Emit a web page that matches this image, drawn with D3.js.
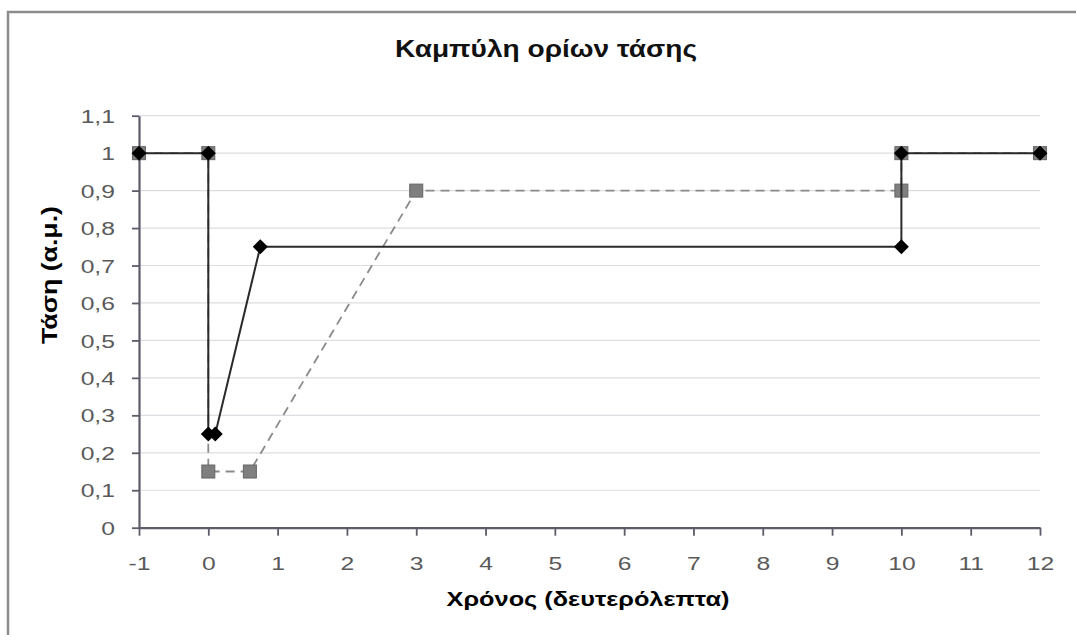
<!DOCTYPE html>
<html>
<head>
<meta charset="utf-8">
<script src="https://cdn.jsdelivr.net/npm/d3@7/dist/d3.min.js"></script>
<style>
  body { margin: 0; background: #fff; }
  svg text { font-family: "Liberation Sans", Arial, sans-serif; }
</style>
</head>
<body>
<div id="chart"></div>
<script>
// καμπύλη με τα διαμάντια (μαύρη, συνεχής)
var timeBlack = [-1, 0, 0, 0.1, 0.75, 10, 10, 12];
var voltBlack = [1, 1, 0.25, 0.25, 0.75, 0.75, 1, 1];
// καμπύλη με τα τετράγωνα (γκρι, διακεκομμένη)
var timeGray = [-1, 0, 0, 0.6, 3, 10, 10, 12];
var voltGray = [1, 1, 0.15, 0.15, 0.9, 0.9, 1, 1];

var xTicks = [-1, 0, 1, 2, 3, 4, 5, 6, 7, 8, 9, 10, 11, 12];
var yTicks = [0, 0.1, 0.2, 0.3, 0.4, 0.5, 0.6, 0.7, 0.8, 0.9, 1, 1.1];

var chartTitle = 'Καμπύλη ορίων τάσης';
var xTitle = 'Χρόνος (δευτερόλεπτα)';
var yTitle = 'Τάση (α.μ.)';

plotChart();

function plotChart(){
    var width = 1076, height = 635;
    var svg = d3.select('#chart').append('svg')
        .attr('width', width)
        .attr('height', height);

    // cadre
    svg.append('rect')
        .attr('x', 8).attr('y', 12)
        .attr('width', width + 20).attr('height', height + 20)
        .attr('fill', 'none')
        .attr('stroke', '#8c8c8c')
        .attr('stroke-width', 2.5);

    var x = d3.scaleLinear().domain([-1, 12]).range([139, 1040]);
    var y = d3.scaleLinear().domain([0, 1.1]).range([527.7, 115.7]);

    // grille
    svg.append('g').selectAll('line').data(yTicks.filter(function(d){ return d > 0; }))
        .enter().append('line')
        .attr('x1', x(-1)).attr('x2', x(12))
        .attr('y1', function(d){ return y(d); })
        .attr('y2', function(d){ return y(d); })
        .attr('stroke', '#dedde3')
        .attr('stroke-width', 1.2);

    var comma = function(d){ return d3.format('~g')(d).replace('.', ','); };

    var yAxis = svg.append('g')
        .attr('transform', 'translate(' + x(-1) + ',0)')
        .call(d3.axisLeft(y).tickValues(yTicks).tickFormat(comma).tickSize(7).tickSizeOuter(0));
    var xAxis = svg.append('g')
        .attr('transform', 'translate(0,' + y(0) + ')')
        .call(d3.axisBottom(x).tickValues(xTicks).tickFormat(function(d){ return d; }).tickSize(8).tickSizeOuter(0));

    [xAxis, yAxis].forEach(function(a){
        a.select('.domain').attr('stroke', '#5e5b6a').attr('stroke-width', 2.2);
        a.selectAll('.tick line').attr('stroke', '#5e5b6a').attr('stroke-width', 1.8);
        a.selectAll('.tick text')
            .attr('fill', '#5a5a5a')
            .style('font-size', '19px');
    });
    yAxis.selectAll('.tick text')
        .attr('x', -18.5)
        .attr('dy', '0.35em')
        .attr('transform', 'scale(1.3,1)');
    xAxis.selectAll('.tick text')
        .attr('y', 0)
        .attr('dy', 0)
        .attr('transform', 'translate(0,42) scale(1.3,1)');

    // courbes
    var line = d3.line()
        .x(function(d){ return x(d[0]); })
        .y(function(d){ return y(d[1]); });

    var grayPts = d3.zip(timeGray, voltGray);
    var blackPts = d3.zip(timeBlack, voltBlack);

    svg.append('path').datum(grayPts)
        .attr('d', line)
        .attr('fill', 'none')
        .attr('stroke', '#8a8a8a')
        .attr('stroke-width', 1.8)
        .attr('stroke-dasharray', '9,6');

    svg.append('g').selectAll('rect').data(grayPts)
        .enter().append('rect')
        .attr('x', function(d){ return x(d[0]) - 6.5; })
        .attr('y', function(d){ return y(d[1]) - 6.5; })
        .attr('width', 13).attr('height', 13)
        .attr('fill', '#7f7f7f')
        .attr('stroke', '#666')
        .attr('stroke-width', 1);

    svg.append('path').datum(blackPts)
        .attr('d', line)
        .attr('fill', 'none')
        .attr('stroke', '#2a2a2a')
        .attr('stroke-width', 2);

    svg.append('g').selectAll('path').data(blackPts)
        .enter().append('path')
        .attr('d', 'M0,-7.5L7.5,0L0,7.5L-7.5,0Z')
        .attr('transform', function(d){ return 'translate(' + x(d[0]) + ',' + y(d[1]) + ')'; })
        .attr('fill', '#000');

    // titres
    svg.append('text')
        .attr('x', 546).attr('y', 57)
        .attr('text-anchor', 'middle')
        .attr('textLength', 302).attr('lengthAdjust', 'spacingAndGlyphs')
        .style('font-size', '24px')
        .style('font-weight', 'bold')
        .attr('fill', '#111')
        .text(chartTitle);

    svg.append('text')
        .attr('x', 588).attr('y', 606)
        .attr('text-anchor', 'middle')
        .attr('textLength', 283).attr('lengthAdjust', 'spacingAndGlyphs')
        .style('font-size', '21px')
        .style('font-weight', 'bold')
        .attr('fill', '#000')
        .text(xTitle);

    svg.append('text')
        .attr('transform', 'translate(57,275) rotate(-90)')
        .attr('text-anchor', 'middle')
        .attr('textLength', 138).attr('lengthAdjust', 'spacingAndGlyphs')
        .style('font-size', '22px')
        .style('font-weight', 'bold')
        .attr('fill', '#000')
        .text(yTitle);
}
</script>
</body>
</html>
